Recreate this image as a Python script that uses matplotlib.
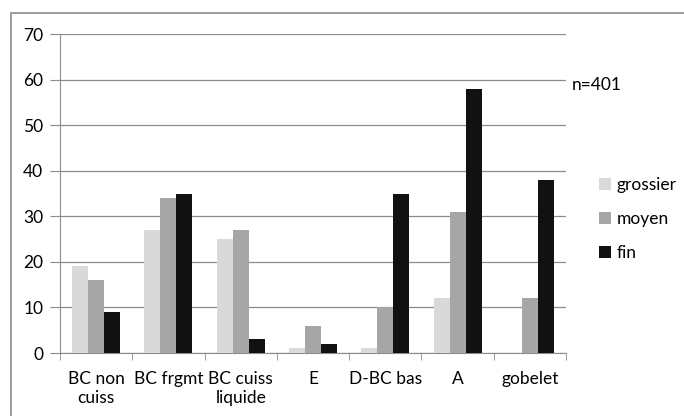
import matplotlib.pyplot as plt
import numpy as np
from matplotlib.patches import Rectangle

categories = ["BC non\ncuiss", "BC frgmt", "BC cuiss\nliquide", "E", "D-BC bas", "A", "gobelet"]
grossier = [19, 27, 25, 1, 1, 12, 0]
moyen = [16, 34, 27, 6, 10, 31, 12]
fin = [9, 35, 3, 2, 35, 58, 38]

plt.rcParams['font.family'] = ['Lato', 'DejaVu Sans']

fig = plt.figure(figsize=(6.84, 4.16), dpi=100)
ax = fig.add_axes([0.0877, 0.1514, 0.7398, 0.7666])

x = np.arange(len(categories))
w = 0.222
ax.bar(x - w, grossier, w, color='#d9d9d9', label='grossier', zorder=3)
ax.bar(x, moyen, w, color='#a6a6a6', label='moyen', zorder=3)
ax.bar(x + w, fin, w, color='#111111', label='fin', zorder=3)

ax.set_xlim(-0.5, len(categories) - 0.5)
ax.set_ylim(0, 70)
ax.set_yticks(range(0, 71, 10))
ax.yaxis.grid(True, color='#8c8c8c', linewidth=0.9)
ax.set_axisbelow(True)

ax.set_xticks(x)
ax.set_xticklabels(categories, fontsize=12.5, linespacing=1.2)
ax.set_xticks(np.arange(-0.5, len(categories)), minor=True)
ax.tick_params(axis='x', which='major', length=0, pad=13)
ax.tick_params(axis='x', which='minor', length=5, color='#8c8c8c')
ax.tick_params(axis='y', length=7, color='#8c8c8c', labelsize=12.5, pad=5)

ax.spines['right'].set_color('none')
ax.spines['top'].set_color('none')
ax.spines['left'].set_color('#8c8c8c')
ax.spines['bottom'].set_color('#8c8c8c')

ax.text(1.012, 58.8, "n=401", transform=ax.get_yaxis_transform(), fontsize=12.5, va='center')

ax.legend(loc='center left', bbox_to_anchor=(1.035, 0.42), frameon=False,
          fontsize=12.5, handlelength=0.7, handleheight=0.7, handletextpad=0.3,
          labelspacing=1.05)

fig.patches.append(Rectangle((11 / 684, -0.1), 1.2, 1.1 - 13 / 416, transform=fig.transFigure,
                             fill=False, edgecolor='#8c8c8c', linewidth=1.2))

fig.savefig("out.png", dpi=100)
